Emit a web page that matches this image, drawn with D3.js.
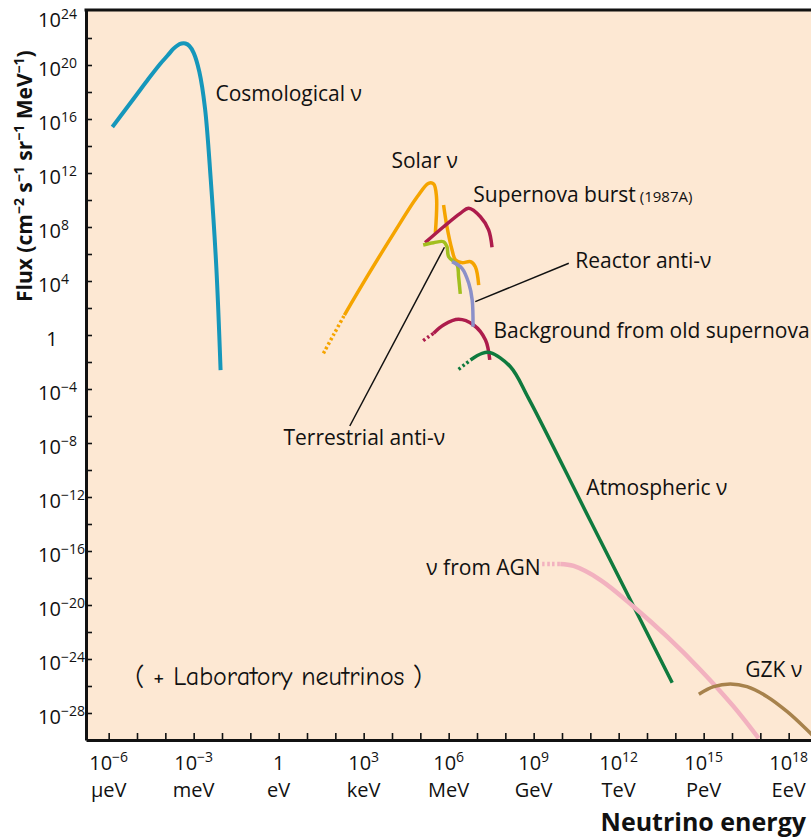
<html lang='en'>
<head>
  <meta charset='UTF-8'/>
  <title>Neutrino flux spectrum</title>
  <script src='https://d3js.org/d3.v7.min.js'></script>
  <style>
    body { margin: 0; background: #fff; }
    text { font-family: 'Open Sans', sans-serif; fill: #111; }
    .axis path, .axis line { stroke: #111; }
  </style>
</head>
<body>
  <svg id="chart" width="811" height="839"></svg>
<script>

// all energies are log10(E / eV), fluxes log10(cm^-2 s^-1 sr^-1 MeV^-1)
const cosmoE = [-5.87, -5.445, -5.02, -4.6, -4.17, -3.92, -3.72, -3.58, -3.43, -3.29, -3.15, -3.0, -2.8, -2.6, -2.4, -2.2, -2.05];
const cosmoF = [15.41, 16.59, 17.78, 18.96, 20.11, 20.7, 21.19, 21.44, 21.59, 21.59, 21.41, 20.9, 19.5, 16.8, 11.6, 5.0, -2.6];

const solarE = [1.58, 1.95, 2.32, 3.12, 4.06, 4.89, 5.29, 5.47, 5.57, 5.53];
const solarF = [-1.36, 0.06, 1.48, 4.32, 7.53, 10.24, 11.24, 11.19, 10.24, 7.56];
const solarB8E = [5.82, 5.94, 6.12, 6.24, 6.47, 6.77, 6.94, 7.06];
const solarB8F = [9.63, 8.02, 6.3, 5.56, 5.36, 5.43, 5.06, 3.7];

const burstE = [5.17, 5.82, 6.41, 6.71, 7.12, 7.41, 7.53];
const burstF = [6.84, 8.02, 9.01, 9.39, 8.76, 7.78, 6.5];

const terrE = [5.10, 5.47, 5.82, 5.94, 6.00, 6.30, 6.35, 6.41];
const terrF = [6.67, 6.84, 6.91, 6.54, 5.8, 5.19, 4.32, 3.04];

const reactorE = [6.12, 6.47, 6.71, 6.83, 6.86];
const reactorF = [5.43, 4.94, 3.83, 2.59, 0.61];

const relicE = [5.10, 5.29, 5.47, 5.82, 6.35, 6.88, 7.30, 7.45];
const relicF = [-0.42, -0.13, 0.13, 0.74, 1.16, 0.74, -0.37, -1.84];

const atmoE = [6.35, 6.56, 6.77, 7.18, 7.47, 8.18, 8.82, 11.0, 13.89];
const atmoF = [-2.54, -2.2, -1.85, -1.36, -1.31, -2.35, -4.69, -13.76, -25.76];

const agnE = [9.30, 9.62, 9.94, 10.41, 11.36, 12.53, 13.71, 14.89, 16.06, 16.94];
const agnF = [-16.96, -16.96, -16.96, -17.11, -18.15, -20.13, -22.35, -24.81, -27.53, -29.87];

const gzkE = [14.83, 15.35, 15.94, 16.53, 17.24, 17.95, 18.59, 19.0];
const gzkF = [-26.61, -26.05, -25.85, -26.05, -26.79, -27.9, -29.13, -30.0];

// how many leading points are drawn dotted (extrapolated part)
const dottedLead = { solar: 3, relic: 3, atmo: 3, agn: 3 };

const xTicks = d3.range(-6, 19);
const xLabelExp = [-6, -3, 0, 3, 6, 9, 12, 15, 18];
const xLabelUnit = ['μeV', 'meV', 'eV', 'keV', 'MeV', 'GeV', 'TeV', 'PeV', 'EeV'];
const yTicks = d3.range(-28, 24, 2);
const yLabelExp = [24, 20, 16, 12, 8, 4, 0, -4, -8, -12, -16, -20, -24, -28];

const colors = {
  cosmo: '#1597bb', solar: '#f5a400', solarB8: '#f5a400', burst: '#ad1c4c',
  terr: '#a2bf1e', reactor: '#8b90c9', relic: '#ad1c4c', atmo: '#0f7a3e',
  agn: '#f2b1bf', gzk: '#a7824c'
};

const series = [
  { key: 'cosmo', e: cosmoE, f: cosmoF, w: 4 },
  { key: 'solar', e: solarE, f: solarF, w: 3.5 },
  { key: 'solarB8', e: solarB8E, f: solarB8F, w: 3.5 },
  { key: 'relic', e: relicE, f: relicF, w: 3.5 },
  { key: 'atmo', e: atmoE, f: atmoF, w: 3.5 },
  { key: 'burst', e: burstE, f: burstF, w: 3.5 },
  { key: 'terr', e: terrE, f: terrF, w: 3.5 },
  { key: 'reactor', e: reactorE, f: reactorF, w: 3.5 },
  { key: 'agn', e: agnE, f: agnF, w: 4.5 },
  { key: 'gzk', e: gzkE, f: gzkF, w: 3.5 }
];

// annotation anchors, in data units
const labels = [
  { text: ['Cosmological ν'], e: -2.23, f: 17.33 },
  { text: ['Solar ν'], e: 3.98, f: 12.37 },
  { text: ['Supernova burst', ' (1987A)'], e: 6.87, f: 9.87 },
  { text: ['Reactor anti-ν'], e: 10.47, f: 4.94 },
  { text: ['Background from old supernova'], e: 7.58, f: -0.24 },
  { text: ['Terrestrial anti-ν'], e: 0.17, f: -8.15 },
  { text: ['Atmospheric ν'], e: 10.86, f: -11.85 },
  { text: ['ν from AGN'], e: 5.21, f: -17.78 },
  { text: ['GZK ν'], e: 16.47, f: -25.36 }
];
const pointers = [
  { e1: 2.51, f1: -6.74, e2: 5.85, f2: 6.5 },
  { e1: 6.94, f1: 2.47, e2: 10.24, f2: 5.31 }
];

const mLeft = 86, mTop = 10, mRight = 817, mBottom = 740;

const x = d3.scaleLinear().domain([-6.8, 19]).range([mLeft, mRight]);
const y = d3.scaleLinear().domain([-30, 24.074]).range([mBottom, mTop]);

const svg = d3.select('#chart');

svg.append('rect')
  .attr('x', mLeft).attr('y', mTop)
  .attr('width', mRight - mLeft).attr('height', mBottom - mTop)
  .attr('fill', '#fde8d3');

svg.append('clipPath').attr('id', 'plot')
  .append('rect')
  .attr('x', mLeft).attr('y', mTop)
  .attr('width', mRight - mLeft).attr('height', mBottom - mTop);

const line = d3.line()
  .x(d => x(d[0]))
  .y(d => y(d[1]))
  .curve(d3.curveCatmullRom.alpha(0.5));

const curves = svg.append('g').attr('clip-path', 'url(#plot)');

series.forEach(s => {
  const pts = s.e.map((e, i) => [e, s.f[i]]);
  const n = dottedLead[s.key] || 0;
  if (n) {
    curves.append('path')
      .attr('d', line(pts.slice(0, n)))
      .attr('fill', 'none')
      .attr('stroke', colors[s.key])
      .attr('stroke-width', s.w)
      .attr('stroke-dasharray', '2.5,2.5');
  }
  curves.append('path')
    .attr('d', line(pts.slice(Math.max(n - 1, 0))))
    .attr('fill', 'none')
    .attr('stroke', colors[s.key])
    .attr('stroke-width', s.w)
    .attr('stroke-linecap', 'butt');
});

// pointer lines
svg.selectAll('.pointer').data(pointers).enter()
  .append('line')
  .attr('class', 'pointer')
  .attr('x1', d => x(d.e1)).attr('y1', d => y(d.f1))
  .attr('x2', d => x(d.e2)).attr('y2', d => y(d.f2))
  .attr('stroke', '#111')
  .attr('stroke-width', 1.5);

// labels
labels.forEach(l => {
  const t = svg.append('text')
    .attr('x', x(l.e)).attr('y', y(l.f))
    .style('font-size', '21px');
  t.append('tspan').text(l.text[0]);
  if (l.text[1]) t.append('tspan').style('font-size', '15px').text(l.text[1]);
});

svg.append('text')
  .attr('x', x(-5.06)).attr('y', y(-25.93))
  .style('font-family', "'Comic Sans MS', 'Comic Neue', 'DejaVu Sans', sans-serif")
  .style('font-size', '26px')
  .text('( + Laboratory neutrinos )');

// axes
svg.append('g')
  .attr('class', 'axis')
  .attr('transform', `translate(${mLeft},0)`)
  .call(d3.axisLeft(y).tickValues(yTicks).tickSize(-6).tickSizeOuter(0).tickFormat(''));

svg.append('g')
  .attr('class', 'axis')
  .attr('transform', `translate(0,${mBottom})`)
  .call(d3.axisBottom(x).tickValues(xTicks).tickSize(-7).tickSizeOuter(0).tickFormat(''));

svg.selectAll('.axis .domain').attr('stroke-width', 3);
svg.selectAll('.axis .tick line').attr('stroke-width', 1.6);

svg.append('line')
  .attr('x1', mLeft - 1.5).attr('x2', mRight)
  .attr('y1', mTop).attr('y2', mTop)
  .attr('stroke', '#111').attr('stroke-width', 3);

function sup(n) {
  return String(n).replace('-', '−');
}

// x tick labels
xLabelExp.forEach((p, i) => {
  const t = svg.append('text')
    .attr('x', x(p)).attr('y', 770)
    .attr('text-anchor', 'middle')
    .style('font-size', '20px');
  if (p === 0) {
    t.text('1');
  } else {
    t.append('tspan').text('10');
    t.append('tspan').attr('dy', -8).style('font-size', '14px').text(sup(p));
  }
  svg.append('text')
    .attr('x', x(p)).attr('y', 797)
    .attr('text-anchor', 'middle')
    .style('font-size', '20px')
    .text(xLabelUnit[i]);
});

// y tick labels
yLabelExp.forEach(p => {
  const t = svg.append('text')
    .attr('y', p === 24 ? y(p) + 16 : y(p) + 11)
    .style('font-size', '20px');
  if (p === 0) {
    t.attr('x', 52).attr('text-anchor', 'middle').text('1');
  } else {
    t.attr('x', 38);
    t.append('tspan').text('10');
    t.append('tspan').attr('dy', -8).style('font-size', '14px').text(sup(p));
  }
});

// axis titles
const yt = svg.append('text')
  .attr('transform', 'translate(32,302) rotate(-90)')
  .style('font-size', '21px')
  .style('font-weight', 'bold');
[['Flux (cm', 0], ['−2', -8], [' s', 8], ['−1', -8], [' sr', 8], ['−1', -8], [' MeV', 8], ['−1', -8], [')', 8]]
  .forEach(([s, dy], i) => {
    const sp = yt.append('tspan').text(s);
    if (dy) sp.attr('dy', dy);
    if (i % 2 === 1) sp.style('font-size', '14px');
  });

svg.append('text')
  .attr('x', 806).attr('y', 831)
  .attr('text-anchor', 'end')
  .style('font-size', '25px')
  .style('font-weight', 'bold')
  .text('Neutrino energy');

</script>
</body>
</html>
